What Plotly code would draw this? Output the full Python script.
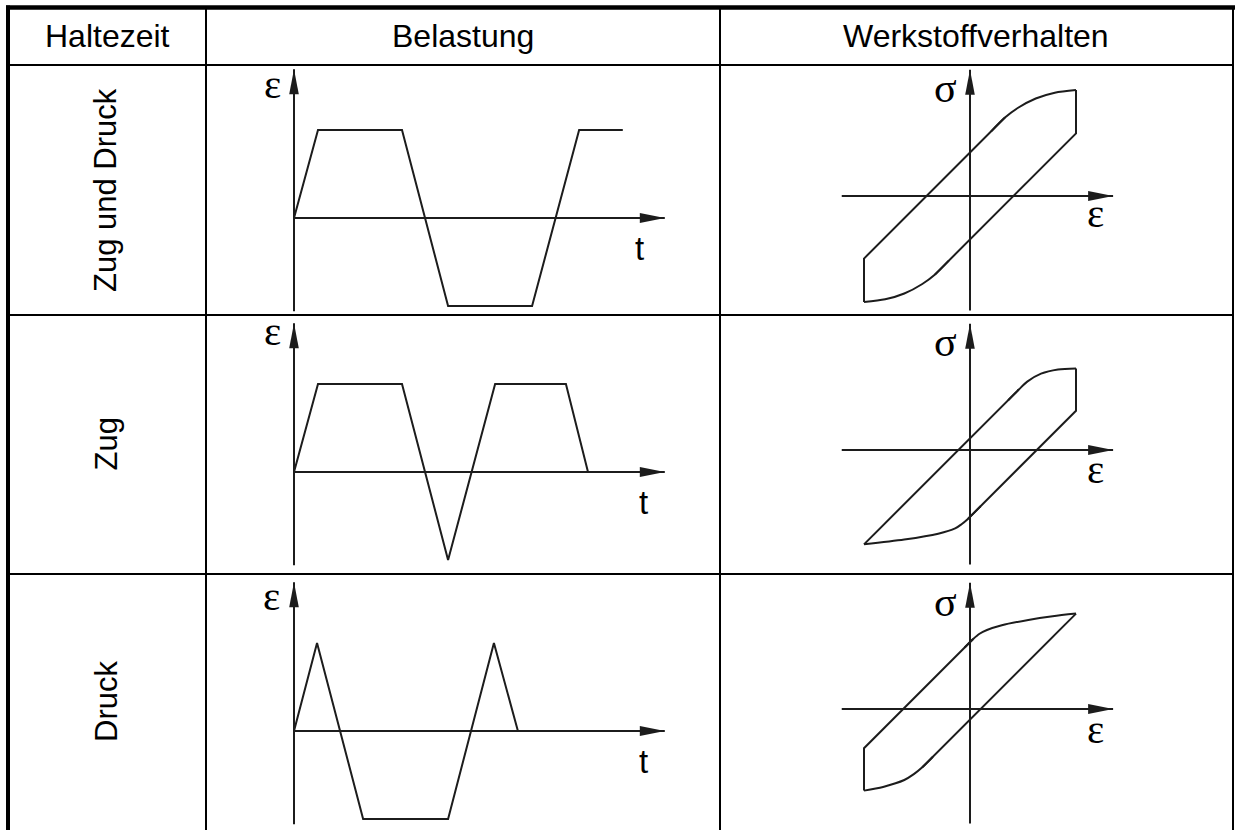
import plotly.graph_objects as go

W, H = 1235, 830

# Tabellentexte
kopf = ["Haltezeit", "Belastung", "Werkstoffverhalten"]
zeilen = ["Zug und Druck", "Zug", "Druck"]

# Belastung: Dehnung über der Zeit (normierte Amplitude)
t_zug_druck = [0, 1.0, 4.5, 6.42, 9.92, 11.88, 13.7]
eps_zug_druck = [0, 1, 1, -1, -1, 1, 1]
t_zug = [0, 1.0, 4.5, 6.42, 8.38, 11.33, 12.25]
eps_zug = [0, 1, 1, -1, 1, 1, 0]
t_druck = [0, 0.96, 2.88, 6.42, 8.33, 9.33]
eps_druck = [0, 1, -1, -1, 1, 0]

# Werkstoffverhalten: Hystereseschleifen (normiert), gerade Äste und Bögen
zd_gerade1_eps = [1.0, 1.0, -0.33]
zd_gerade1_sig = [1.0, 0.59, -0.74]
zd_bogen1_eps = [-0.20, -0.33, -0.45, -0.62, -0.80, -1.0]
zd_bogen1_sig = [-0.61, -0.74, -0.83, -0.92, -0.975, -1.0]
zd_gerade2_eps = [-1.0, -1.0, 0.33]
zd_gerade2_sig = [-1.0, -0.59, 0.74]
zd_bogen2_eps = [0.20, 0.33, 0.45, 0.62, 0.80, 1.0]
zd_bogen2_sig = [0.61, 0.74, 0.83, 0.92, 0.975, 1.0]

z_gerade1_eps = [1.0, 1.0, -0.02]
z_gerade1_sig = [0.77, 0.37, -0.65]
z_bogen1_eps = [0.10, -0.02, -0.08, -0.14, -0.30, -0.62, -1.0]
z_bogen1_sig = [-0.53, -0.65, -0.70, -0.74, -0.79, -0.845, -0.89]
z_gerade2_eps = [-1.0, 0.46]
z_gerade2_sig = [-0.89, 0.57]
z_bogen2_eps = [0.36, 0.46, 0.54, 0.67, 0.83, 1.0]
z_bogen2_sig = [0.47, 0.57, 0.645, 0.72, 0.76, 0.77]

d_gerade1_eps = [1.0, -0.45]
d_gerade1_sig = [0.90, -0.55]
d_bogen1_eps = [-0.35, -0.45, -0.53, -0.62, -0.82, -1.0]
d_bogen1_sig = [-0.45, -0.55, -0.615, -0.67, -0.735, -0.77]
d_gerade2_eps = [-1.0, -1.0, 0.03]
d_gerade2_sig = [-0.77, -0.37, 0.66]
d_bogen2_eps = [-0.05, 0.03, 0.09, 0.16, 0.30, 0.55, 0.78, 1.0]
d_bogen2_sig = [0.58, 0.66, 0.71, 0.745, 0.79, 0.84, 0.875, 0.90]

LINIE = "#1c1c1c"
SCHWARZ = "#000000"

# Tabellenraster (Pixel)
spalten_x = [8, 206, 720, 1233]
zeilen_y = [7.5, 65, 315, 574, 830]

# Lage der Koordinatenursprünge je Zeile (Pixel)
ursprung_t = [(294, 218), (294, 472), (294, 731)]
ursprung_h = [(970, 196), (970, 450), (970, 709)]
skala_t = (24.0, 88.0)
skala_h = (106.0, 106.0)


def px(x):
    return x / W


def py(y):
    return 1 - y / H


fig = go.Figure()
shapes = []
annotations = []
achsen = {}


def linie(x0, y0, x1, y1, breite):
    shapes.append(dict(type="line", xref="paper", yref="paper",
                       x0=px(x0), y0=py(y0), x1=px(x1), y1=py(y1),
                       line=dict(color=SCHWARZ, width=breite), layer="above"))


def achse(nr, box, ursprung, skala):
    x0, x1, y0, y1 = box
    ox, oy = ursprung
    sx, sy = skala
    name = "" if nr == 1 else str(nr)
    achsen["xaxis" + name] = dict(domain=[px(x0), px(x1)],
                                  range=[(x0 - ox) / sx, (x1 - ox) / sx],
                                  anchor="y" + name, visible=False, fixedrange=True)
    achsen["yaxis" + name] = dict(domain=[py(y1), py(y0)],
                                  range=[(oy - y1) / sy, (oy - y0) / sy],
                                  anchor="x" + name, visible=False, fixedrange=True)
    return "x" + name, "y" + name


def kurve(xr, yr, xs, ys, form="linear"):
    fig.add_trace(go.Scatter(x=xs, y=ys, xaxis=xr, yaxis=yr, mode="lines",
                             line=dict(color=LINIE, width=2, shape=form, smoothing=0.8),
                             hoverinfo="skip", showlegend=False))


def pfeil(xr, yr, x, y, richtung):
    if richtung == "oben":
        pfad = "M0,0 L-4.8,-25 L4.8,-25 Z"
    else:
        pfad = "M0,0 L-25,5 L-25,-5 Z"
    shapes.append(dict(type="path", xref=xr, yref=yr, xsizemode="pixel",
                       ysizemode="pixel", xanchor=x, yanchor=y, path=pfad,
                       fillcolor=LINIE, line=dict(width=0), layer="above"))


def text(x, y, s, groesse, schrift="Liberation Sans", winkel=0):
    annotations.append(dict(xref="paper", yref="paper", x=px(x), y=py(y), text=s,
                            showarrow=False, xanchor="center", yanchor="middle",
                            textangle=winkel,
                            font=dict(family=schrift, size=groesse, color=SCHWARZ)))


belastung = [(t_zug_druck, eps_zug_druck), (t_zug, eps_zug), (t_druck, eps_druck)]
schleifen = [
    [(zd_gerade1_eps, zd_gerade1_sig, "linear"), (zd_bogen1_eps, zd_bogen1_sig, "spline"),
     (zd_gerade2_eps, zd_gerade2_sig, "linear"), (zd_bogen2_eps, zd_bogen2_sig, "spline")],
    [(z_gerade1_eps, z_gerade1_sig, "linear"), (z_bogen1_eps, z_bogen1_sig, "spline"),
     (z_gerade2_eps, z_gerade2_sig, "linear"), (z_bogen2_eps, z_bogen2_sig, "spline")],
    [(d_gerade1_eps, d_gerade1_sig, "linear"), (d_bogen1_eps, d_bogen1_sig, "spline"),
     (d_gerade2_eps, d_gerade2_sig, "linear"), (d_bogen2_eps, d_bogen2_sig, "spline")],
]

# Beschriftungen der Diagramme (Pixelmitte der Zeichen)
lab_eps_t = [(272, 84), (272, 331), (271, 596)]
lab_t = [(639, 248), (643, 502), (643, 761)]
lab_sig = [(945, 88), (945, 342), (945, 602)]
lab_eps_h = [(1095, 213), (1095, 469), (1095, 729)]

nr = 1
for i in range(3):
    box_t = (spalten_x[1], spalten_x[2], zeilen_y[i + 1], zeilen_y[i + 2])
    xr, yr = achse(nr, box_t, ursprung_t[i], skala_t)
    nr += 1
    # Achsen
    kurve(xr, yr, [0, 0], [-1.06, 1.69])
    kurve(xr, yr, [0, 15.45], [0, 0])
    pfeil(xr, yr, 0, 1.69, "oben")
    pfeil(xr, yr, 15.45, 0, "rechts")
    t_werte, e_werte = belastung[i]
    kurve(xr, yr, t_werte, e_werte)

    box_h = (spalten_x[2], spalten_x[3], zeilen_y[i + 1], zeilen_y[i + 2])
    xr, yr = achse(nr, box_h, ursprung_h[i], skala_h)
    nr += 1
    kurve(xr, yr, [-1.21, 1.35], [0, 0])
    kurve(xr, yr, [0, 0], [-1.08, 1.19])
    pfeil(xr, yr, 1.35, 0, "rechts")
    pfeil(xr, yr, 0, 1.19, "oben")
    for xs, ys, form in schleifen[i]:
        kurve(xr, yr, xs, ys, form)

    text(*lab_eps_t[i], "ε", 41, "Liberation Serif")
    text(*lab_t[i], "t", 33)
    text(*lab_sig[i], "σ", 42, "Liberation Serif")
    text(*lab_eps_h[i], "ε", 41, "Liberation Serif")

# Kopfzeile und Zeilenbeschriftungen
kopf_x = [107, 463, 976]
for s, x in zip(kopf, kopf_x):
    text(x, 36, s, 32)
for i, s in enumerate(zeilen):
    text(106, (zeilen_y[i + 1] + zeilen_y[i + 2]) / 2, s, 31, winkel=-90)

# Tabellenraster
linie(6, 7.5, W, 7.5, 4.5)
linie(8, 5.5, 8, H, 4)
linie(1233, 6, 1233, H, 2)
for x in spalten_x[1:3]:
    linie(x, 7.5, x, H, 2)
for y in zeilen_y[1:4]:
    linie(8, y, 1233, y, 2)

fig.update_layout(width=W, height=H, margin=dict(l=0, r=0, t=0, b=0),
                  paper_bgcolor="white", plot_bgcolor="white",
                  shapes=shapes, annotations=annotations, **achsen)

fig.write_html("out.html")
